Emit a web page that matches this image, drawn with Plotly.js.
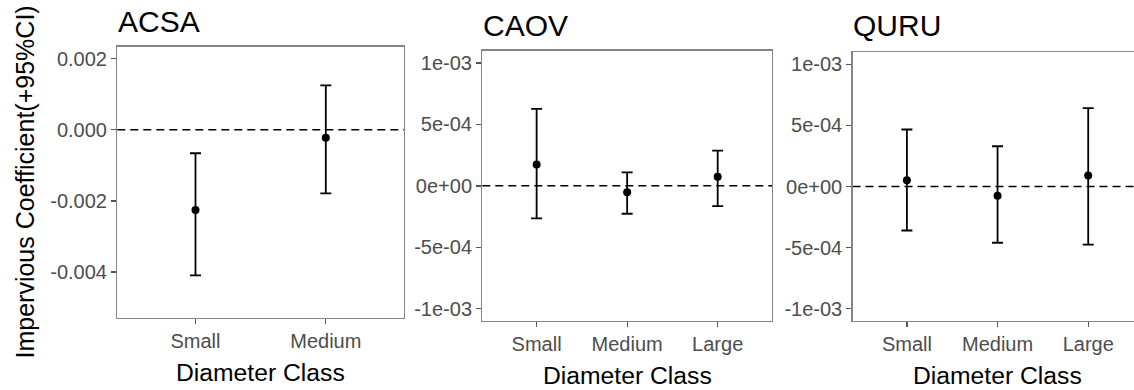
<!DOCTYPE html>
<html>
<head>
<meta charset="utf-8">
<script src="https://cdn.plot.ly/plotly-3.0.1.min.js"></script>
<style>
html,body{margin:0;padding:0;overflow:hidden;background:#fff;}
#chart{width:1144px;height:390px;}
</style>
</head>
<body>
<div id="chart"></div>
<script>
// ---- data ----
var panelNames = ['ACSA', 'CAOV', 'QURU'];
var acsaClasses = ['Small', 'Medium'];
var acsaEst  = [-0.00226, -0.00022];
var acsaLow  = [-0.00410, -0.00179];
var acsaHigh = [-0.00066, 0.00125];

var caovClasses = ['Small', 'Medium', 'Large'];
var caovEst  = [0.000173, -0.000052, 0.000075];
var caovLow  = [-0.000265, -0.000227, -0.000165];
var caovHigh = [0.000627, 0.000110, 0.000286];

var quruClasses = ['Small', 'Medium', 'Large'];
var quruEst  = [0.000052, -0.000075, 0.000089];
var quruLow  = [-0.000360, -0.000460, -0.000476];
var quruHigh = [0.000466, 0.000329, 0.000641];

var acsaTickVals = [0.002, 0.000, -0.002, -0.004];
var acsaTickText = ['0.002', '0.000', '-0.002', '-0.004'];
var sciTickVals = [0.001, 0.0005, 0, -0.0005, -0.001];
var sciTickText = ['1e-03', '5e-04', '0e+00', '-5e-04', '-1e-03'];

var xTitle = 'Diameter Class';
var yTitle = 'Impervious Coefficient(+95%CI)';

// ---- layout helpers ----
var W = 1144, H = 390;
function px(x){ return x / W; }
function py(y){ return 1 - y / H; }

var FONT = 'Liberation Sans, Arial, sans-serif';
var TICKSIZE = 20;

function trace(cls, est, low, high, xa, ya){
  return {
    type: 'scatter', mode: 'markers',
    x: cls, y: est, xaxis: xa, yaxis: ya,
    marker: {color: '#000', size: 8},
    error_y: {
      type: 'data', symmetric: false,
      array: est.map(function(v,i){ return high[i] - v; }),
      arrayminus: est.map(function(v,i){ return v - low[i]; }),
      color: '#000', thickness: 1.8, width: 5.5
    },
    showlegend: false, hoverinfo: 'skip'
  };
}

var data = [
  trace(acsaClasses, acsaEst, acsaLow, acsaHigh, 'x', 'y'),
  trace(caovClasses, caovEst, caovLow, caovHigh, 'x2', 'y2'),
  trace(quruClasses, quruEst, quruLow, quruHigh, 'x3', 'y3')
];

function xaxis(dom, cats, anchor){
  return {
    domain: dom, anchor: anchor, type: 'category',
    categoryorder: 'array', categoryarray: cats,
    range: [-0.6, cats.length - 0.4],
    showgrid: false, zeroline: false,
    showline: true, mirror: true, linecolor: '#858585', linewidth: 1.3,
    ticks: 'outside', ticklen: 5, tickwidth: 1.3, tickcolor: '#555',
    tickfont: {family: FONT, size: TICKSIZE, color: '#4d4d4d'},
    fixedrange: true
  };
}
function yaxis(dom, range, tv, tt, anchor){
  return {
    domain: dom, anchor: anchor, range: range,
    tickmode: 'array', tickvals: tv, ticktext: tt,
    showgrid: false, zeroline: false,
    showline: true, mirror: true, linecolor: '#858585', linewidth: 1.3,
    ticks: 'outside', ticklen: 5, tickwidth: 1.3, tickcolor: '#555',
    tickfont: {family: FONT, size: TICKSIZE, color: '#4d4d4d'},
    fixedrange: true
  };
}

function zeroLine(xr, yr){
  return {type: 'line', xref: xr + ' domain', yref: yr, x0: 0, x1: 1, y0: 0, y1: 0,
          line: {color: '#000', width: 1.5, dash: '8px,5px'}, layer: 'below'};
}

function ann(text, x, y, size, opts){
  var a = {text: text, x: x, y: y, xref: 'paper', yref: 'paper', showarrow: false,
           font: {family: FONT, size: size, color: '#000'}, xanchor: 'center', yanchor: 'middle'};
  for (var k in opts) a[k] = opts[k];
  return a;
}

var layout = {
  width: W, height: H,
  margin: {l: 0, r: 0, t: 0, b: 0},
  paper_bgcolor: '#fff', plot_bgcolor: '#fff',
  showlegend: false,
  xaxis:  xaxis([px(117.3), px(404)], acsaClasses, 'y'),
  yaxis:  yaxis([py(317.7), py(46.7)], [-0.00529, 0.00234], acsaTickVals, acsaTickText, 'x'),
  xaxis2: xaxis([px(482.3), px(772)], caovClasses, 'y2'),
  yaxis2: yaxis([py(321), py(50.7)], [-0.0011, 0.0011], sciTickVals, sciTickText, 'x2'),
  xaxis3: xaxis([px(852.5), px(1142.6)], quruClasses, 'y3'),
  yaxis3: yaxis([py(321), py(52)], [-0.0011, 0.0011], sciTickVals, sciTickText, 'x3'),
  shapes: [zeroLine('x', 'y'), zeroLine('x2', 'y2'), zeroLine('x3', 'y3')],
  annotations: [
    ann(panelNames[0], px(115.5), py(21), 30, {xanchor: 'left'}),
    ann(panelNames[1], px(481), py(25.5), 30, {xanchor: 'left'}),
    ann(panelNames[2], px(851.5), py(25.5), 30, {xanchor: 'left'}),
    ann(xTitle, px(260.6), py(372), 24.7),
    ann(xTitle, px(627.1), py(375), 24.7),
    ann(xTitle, px(997.5), py(375), 24.7),
    ann(yTitle, px(24.5), py(182), 25, {textangle: -90})
  ]
};

Plotly.newPlot('chart', data, layout, {staticPlot: true, displayModeBar: false});
</script>
</body>
</html>
